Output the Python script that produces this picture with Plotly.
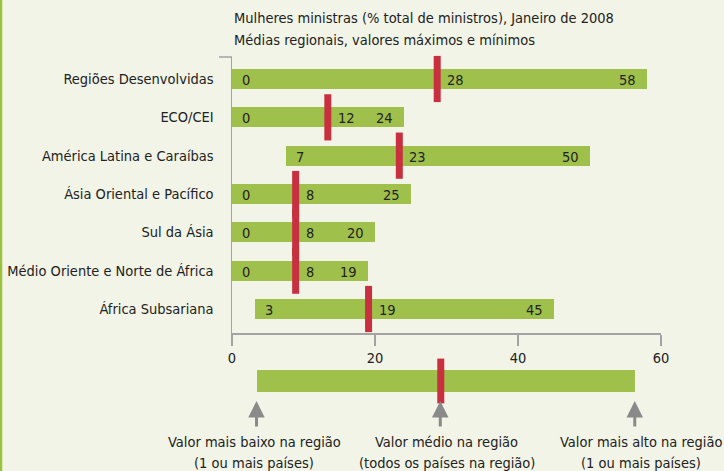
import plotly.graph_objects as go

# ---------------- data ----------------
regions = ["Regiões Desenvolvidas", "ECO/CEI", "América Latina e Caraíbas",
           "Ásia Oriental e Pacífico", "Sul da Ásia",
           "Médio Oriente e Norte de África", "África Subsariana"]
min_vals = [0, 0, 7.6, 0, 0, 0, 3.2]          # lowest value in region
mean_vals = [28.7, 13.4, 23.4, 8.9, 8.9, 8.9, 19.1]  # regional average (marker)
max_vals = [58, 24, 50, 25, 20, 19, 45]         # highest value in region
min_labels = ["0", "0", "7", "0", "0", "0", "3"]
mean_labels = ["28", "12", "23", "8", "8", "8", "19"]
max_labels = ["58", "24", "50", "25", "20", "19", "45"]

x_ticks = [0, 20, 40, 60]

# schematic legend bar (min, mean, max)
legend_vals = [3.5, 29.2, 56.4]
legend_line1 = ["Valor mais baixo na região", "Valor médio na região",
                "Valor mais alto na região"]
legend_line2 = ["(1 ou mais países)", "(todos os países na região)",
                "(1 ou mais países)"]

title_lines = ["Mulheres ministras (% total de ministros), Janeiro de 2008",
               "Médias regionais, valores máximos e mínimos"]

# ---------------- style ----------------
GREEN = "#A0C04C"
RED = "#C8303F"
BG = "#F1F4E7"
AXIS = "#A3A3A3"
TXT = "#222222"
FONT = "DejaVu Sans Condensed, Liberation Sans Narrow, sans-serif"
FS = 14.5

W, H = 724, 471
ML, MR, MT, MB = 232, 63, 57, 10
PH = H - MT - MB


def py(pix):
    """pixel row -> paper y"""
    return (H - MB - pix) / PH


fig = go.Figure()

# range bars
fig.add_trace(go.Bar(
    y=regions, x=[mx - mn for mn, mx in zip(min_vals, max_vals)], base=min_vals,
    orientation="h", marker=dict(color=GREEN, line=dict(width=0)), width=0.52,
    hoverinfo="skip", showlegend=False))

# mean markers
fig.add_trace(go.Scatter(
    y=regions, x=mean_vals, mode="markers",
    marker=dict(symbol="line-ns", size=33, color=RED, line=dict(width=7, color=RED)),
    hoverinfo="skip", showlegend=False, cliponaxis=False))

# legend schematic bar on second y axis
fig.add_trace(go.Bar(
    y=[0], x=[legend_vals[2] - legend_vals[0]], base=[legend_vals[0]],
    orientation="h", marker=dict(color=GREEN, line=dict(width=0)), width=0.66,
    yaxis="y2", hoverinfo="skip", showlegend=False))
fig.add_trace(go.Scatter(
    y=[0], x=[legend_vals[1]], mode="markers", yaxis="y2",
    marker=dict(symbol="line-ns", size=32, color=RED, line=dict(width=7, color=RED)),
    hoverinfo="skip", showlegend=False, cliponaxis=False))

annotations = []
font = dict(family=FONT, size=FS, color=TXT)
for r, mn, me, mx, lmn, lme, lmx in zip(regions, min_vals, mean_vals, max_vals,
                                         min_labels, mean_labels, max_labels):
    annotations.append(dict(x=mn, y=r, xref="x", yref="y", text=lmn, showarrow=False,
                            xanchor="left", xshift=8, font=font, yshift=-1))
    annotations.append(dict(x=me, y=r, xref="x", yref="y", text=lme, showarrow=False,
                            xanchor="left", xshift=8, font=font, yshift=-1))
    annotations.append(dict(x=mx, y=r, xref="x", yref="y", text=lmx, showarrow=False,
                            xanchor="right", xshift=-9, font=font, yshift=-1))

# title (two lines)
for line, pix in zip(title_lines, [18, 40]):
    annotations.append(dict(x=0, y=py(pix), xref="paper", yref="paper", text=line,
                            showarrow=False, xanchor="left", yanchor="middle",
                            align="left", font=font, xshift=0))

# legend arrows + captions
cap_shift = [-3, 6, 6]
for v, c1, c2, sh in zip(legend_vals, legend_line1, legend_line2, cap_shift):
    annotations.append(dict(x=v, y=py(401), xref="x", yref="paper", text="",
                            showarrow=True, arrowhead=2, arrowsize=1.1, arrowwidth=3,
                            arrowcolor="#8A8A8A", ax=0, ay=27, standoff=0, xshift=-0.5))
    annotations.append(dict(x=v, y=py(442), xref="x", yref="paper", text=c1,
                            showarrow=False, xanchor="center", yanchor="middle",
                            font=font, xshift=sh))
    annotations.append(dict(x=v, y=py(463), xref="x", yref="paper", text=c2,
                            showarrow=False, xanchor="center", yanchor="middle",
                            font=font, xshift=sh))

shapes = [
    # top serif of the y axis
    dict(type="line", xref="paper", yref="paper", x0=-13 / (W - ML - MR), x1=0,
         y0=1, y1=1, line=dict(color=AXIS, width=1.5)),
    # left green frame line
    dict(type="line", xref="paper", yref="paper", x0=-(ML - 1) / (W - ML - MR),
         x1=-(ML - 1) / (W - ML - MR), y0=py(H + 5), y1=py(-5),
         line=dict(color="#9DC13E", width=2.5)),
]

fig.update_layout(
    width=W, height=H, paper_bgcolor=BG, plot_bgcolor=BG,
    margin=dict(l=ML, r=MR, t=MT, b=MB, autoexpand=False),
    font=font, bargap=0, showlegend=False, hovermode=False,
    annotations=annotations, shapes=shapes,
    xaxis=dict(range=[0, 60], tickvals=x_ticks, showgrid=False, zeroline=False,
               showline=True, linecolor=AXIS, linewidth=1.5, ticks="outside",
               ticklen=11, tickwidth=1.5, tickcolor=AXIS, anchor="y",
               tickfont=font, fixedrange=True, automargin=False),
    yaxis=dict(domain=[py(333), 1], type="category", categoryorder="array",
               categoryarray=regions, range=[6.626, -0.574], showgrid=False,
               zeroline=False, showline=True, linecolor=AXIS, linewidth=1.5,
               ticks="", ticklabelstandoff=14, tickfont=font, fixedrange=True,
               automargin=False),
    yaxis2=dict(domain=[py(397), py(365)], range=[-0.5, 0.5], showgrid=False,
                zeroline=False, showline=False, showticklabels=False,
                fixedrange=True, anchor="x", automargin=False),
)

fig.write_html("out.html",
               config={"displayModeBar": False, "staticPlot": True},
               post_script="document.body.style.margin='0px';"
                           "document.body.style.padding='0px';")
